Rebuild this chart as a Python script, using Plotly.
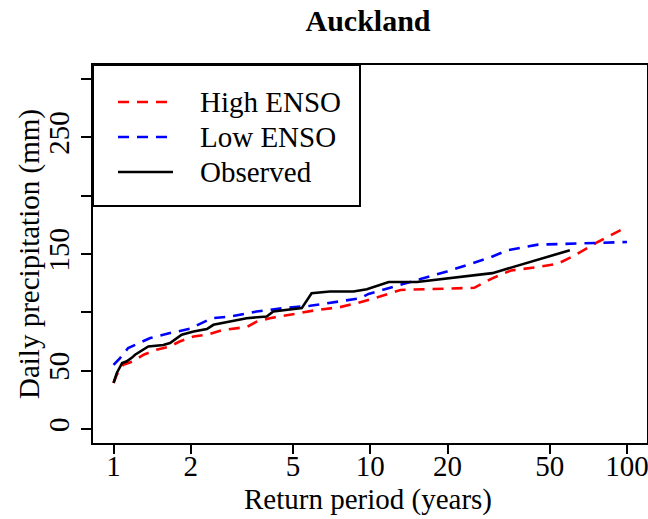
import plotly.graph_objects as go

# Return periods (years) and daily precipitation (mm)
high_T = [1.0, 1.03, 1.09, 1.19, 1.31, 1.47, 1.66, 1.81, 2.05, 2.31, 2.68, 3.30, 3.61, 4.06, 4.86, 6.19, 7.6, 8.86, 10.9, 12.0, 13.1, 25.4, 29.6, 35.3, 45, 53.6, 60.8, 77, 97]
high_P = [39.5, 46.6, 55, 58, 63.7, 68, 70.8, 75, 79.3, 80.8, 85, 87.4, 92, 95, 97.9, 102, 104.4, 107.9, 113.5, 116.4, 119.2, 121, 128.7, 135.9, 138.8, 141.6, 147.4, 160.3, 171.8]

low_T = [1.0, 1.06, 1.14, 1.39, 1.66, 1.98, 2.42, 2.84, 3.61, 4.58, 5.83, 7.4, 9.1, 9.85, 15.7, 19.9, 29.6, 34.2, 45, 75, 100]
low_P = [55, 60.8, 69.4, 78, 82.2, 85.9, 95, 96.4, 100.7, 103.6, 105.6, 109.2, 112, 115.8, 128.7, 135, 147.4, 153.2, 158, 159.4, 160.3]

obs_T = [1.0, 1.03, 1.08, 1.126, 1.177, 1.213, 1.366, 1.563, 1.66, 1.843, 2.05, 2.31, 2.45, 2.84, 3.30, 3.95, 4.19, 5.41, 5.91, 6.96, 8.6, 9.7, 11.8, 15.2, 29.9, 59.9]
obs_P = [39.5, 48, 56.6, 58, 61, 63.7, 70.8, 72, 73.7, 80.8, 83.6, 85.6, 89.3, 92, 95, 96.4, 100.7, 103.6, 116.4, 117.8, 117.8, 119.8, 126, 126, 133.6, 153.2]

x_ticks = [1, 2, 5, 10, 20, 50, 100]
y_ticks = [0, 50, 100, 150, 200, 250, 300]
y_ticktext = ["0", "50", "", "150", "", "250", ""]

legend_names = ["High ENSO", "Low ENSO", "Observed"]
legend_colors = ["#FF0000", "#0000FF", "#000000"]
legend_dash = ["11px,8px", "11px,8px", "solid"]

FONT = "Liberation Serif, Times New Roman, serif"
W, H = 648, 519
L, R, T, B = 93, 1, 65, 76
PW, PH = W - L - R, H - T - B

fig = go.Figure()
series = [(high_T, high_P), (low_T, low_P), (obs_T, obs_P)]
for (xs, ys), name, col, dash in zip(series, legend_names, legend_colors, legend_dash):
    fig.add_trace(go.Scatter(x=xs, y=ys, mode="lines", name=name,
                             line=dict(color=col, width=2.6, dash=dash),
                             showlegend=False))

def px_x(p):
    return (p - L) / PW

def px_y(p):
    return (H - B - p) / PH

# Manual legend box
shapes = [dict(type="rect", xref="paper", yref="paper", x0=0, x1=px_x(360), y0=px_y(206), y1=1,
               line=dict(color="black", width=2), fillcolor="white", layer="above")]
annotations = []
leg_y = [102, 137, 172]
for name, col, dash, yy in zip(legend_names, legend_colors, legend_dash, leg_y):
    shapes.append(dict(type="line", xref="paper", yref="paper", x0=px_x(118), x1=px_x(173),
                       y0=px_y(yy), y1=px_y(yy),
                       line=dict(color=col, width=2.6, dash=dash), layer="above"))
    annotations.append(dict(xref="paper", yref="paper", x=px_x(198), y=px_y(yy), text=name, showarrow=False,
                            xanchor="left", yanchor="middle", font=dict(family=FONT, size=29, color="black")))

# axis titles
annotations.append(dict(xref="paper", yref="paper", x=px_x(368), y=px_y(499), text="Return period (years)",
                        showarrow=False, xanchor="center", yanchor="middle",
                        font=dict(family=FONT, size=29, color="black")))
annotations.append(dict(xref="paper", yref="paper", x=px_x(29), y=px_y(254), text="Daily precipitation (mm)",
                        showarrow=False, xanchor="center", yanchor="middle", textangle=-90,
                        font=dict(family=FONT, size=29, color="black")))

fig.update_layout(
    width=W, height=H,
    margin=dict(l=L, r=R, t=T, b=B),
    plot_bgcolor="white", paper_bgcolor="white",
    title=dict(text="<b>Auckland</b>", x=368 / W, xanchor="center", y=1 - 20 / H, yanchor="middle",
               font=dict(family=FONT, size=30, color="black")),
    font=dict(family=FONT, size=29, color="black"),
    shapes=shapes, annotations=annotations,
    xaxis=dict(type="log", range=[-0.08, 2.078], tickvals=x_ticks, ticktext=[str(v) for v in x_ticks],
               automargin=False, ticklabeloverflow="allow", ticklabelstandoff=-13,
               showgrid=False, zeroline=False, showline=True, linecolor="black", linewidth=2, mirror=True,
               ticks="outside", ticklen=9, tickwidth=2, tickcolor="black",
               tickfont=dict(family=FONT, size=29)),
    yaxis=dict(range=[-12, 312], tickvals=y_ticks, ticktext=y_ticktext, tickangle=-90,
               automargin=False, ticklabeloverflow="allow",
               showgrid=False, zeroline=False, showline=True, linecolor="black", linewidth=2, mirror=True,
               ticks="outside", ticklen=10, tickwidth=2, tickcolor="black",
               tickfont=dict(family=FONT, size=29)),
)

fig.write_html("out.html", config={"displayModeBar": False},
               post_script="document.body.style.margin='0';document.body.style.overflow='hidden';")
